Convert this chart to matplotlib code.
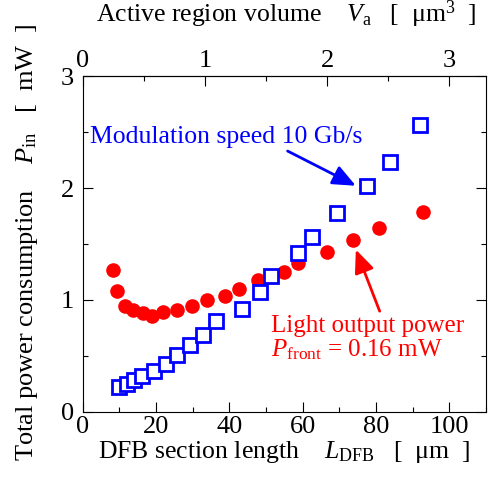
import matplotlib
matplotlib.use("Agg")
import matplotlib.pyplot as plt
import matplotlib.transforms as mtransforms
from matplotlib.ticker import MultipleLocator, FixedLocator

plt.rcParams['font.family'] = ['Liberation Serif', 'DejaVu Serif']
plt.rcParams['mathtext.fontset'] = 'custom'
plt.rcParams['mathtext.rm'] = 'Liberation Serif'
plt.rcParams['mathtext.it'] = 'Liberation Serif:italic'

# Datos
L_mod = [10.0, 12.0, 14.0, 16.3, 19.4, 22.7, 25.6, 29.4, 32.7, 36.5,
         43.5, 48.5, 51.5, 58.7, 62.6, 69.4, 77.5, 83.9, 91.9]
P_mod = [0.22, 0.25, 0.29, 0.32, 0.37, 0.43, 0.51, 0.60, 0.69, 0.81,
         0.92, 1.07, 1.21, 1.42, 1.56, 1.78, 2.02, 2.23, 2.56]

L_light = [8.4, 9.4, 11.5, 13.6, 16.5, 18.8, 21.8, 25.6, 29.7, 33.8,
           38.8, 42.7, 47.8, 54.9, 58.7, 66.6, 73.7, 80.8, 92.8]
P_light = [1.27, 1.08, 0.95, 0.91, 0.88, 0.86, 0.89, 0.91, 0.95, 1.00,
           1.04, 1.10, 1.18, 1.25, 1.33, 1.43, 1.54, 1.64, 1.79]

factor_volumen = 0.03  # um^3 por um de longitud
ticks_volumen = [0, 1, 2, 3]
ticks_volumen_menor = [0.5, 1.5, 2.5]

fig = plt.figure(figsize=(4.89, 4.79), dpi=100)
ax = fig.add_axes([0.169, 0.1399, 0.8249, 0.7014])

ax.plot(L_light, P_light, 'o', color='#ff0000', markersize=10.5, markeredgewidth=0, zorder=3)
ax.plot(L_mod, P_mod, 's', color='#0000ff', markersize=9.5, markerfacecolor='white',
        markeredgewidth=2.0, zorder=4)

ax.set_xlim(0, 110)
ax.set_ylim(0, 3)
ax.xaxis.set_major_locator(MultipleLocator(20))
ax.xaxis.set_minor_locator(MultipleLocator(10))
ax.yaxis.set_major_locator(MultipleLocator(1))
ax.yaxis.set_minor_locator(MultipleLocator(0.5))
ax.tick_params(which='both', direction='in', labelsize=19, width=0.8,
               top=False, right=True, pad=3)
ax.tick_params(axis='y', pad=6)
ax.tick_params(which='major', length=7)
ax.tick_params(which='minor', length=3.6)
for s in ax.spines.values():
    s.set_linewidth(0.8)

# el "0" del eje x va un poco a la izquierda
fig.canvas.draw()
lab0 = ax.get_xticklabels()[0]
lab0.set_transform(lab0.get_transform() + mtransforms.ScaledTranslation(-9 / 100, 0, fig.dpi_scale_trans))

ax.set_xlabel('DFB section length    $L_\\mathrm{DFB}$   [  μm  ]', fontsize=18.5)
ax.set_ylabel('Total power consumption    $P_\\mathrm{in}$   [  mW  ]', fontsize=19)
ax.xaxis.set_label_coords(0.5, -0.08)
ax.yaxis.set_label_coords(-0.105, 0.506)

# eje superior: volumen de la region activa
sec = ax.secondary_xaxis('top', functions=(lambda x: x * factor_volumen, lambda v: v / factor_volumen))
sec.xaxis.set_major_locator(FixedLocator(ticks_volumen))
sec.xaxis.set_minor_locator(FixedLocator(ticks_volumen_menor))
sec.tick_params(which='both', direction='in', labelsize=19, width=0.8, pad=3)
sec.tick_params(which='major', length=7)
sec.tick_params(which='minor', length=3.6)
sec.spines['top'].set_linewidth(0.8)
sec.set_xlabel('Active region volume    $V_\\mathrm{a}$   [  μm$^3$  ]', fontsize=18.5)
sec.xaxis.set_label_coords(0.505, 1.161, transform=ax.transAxes)

# anotaciones
ax.annotate('', xy=(74.5, 2.02), xytext=(55.9, 2.33),
            arrowprops=dict(arrowstyle='-|>,head_length=0.7,head_width=0.3', color='#0000ff',
                            lw=2.0, mutation_scale=20, shrinkA=0, shrinkB=0))
ax.text(2.0, 2.40, 'Modulation speed 10 Gb/s', color='#0000ff', fontsize=18.5)

ax.annotate('', xy=(74.5, 1.45), xytext=(81.0, 0.90),
            arrowprops=dict(arrowstyle='-|>,head_length=0.7,head_width=0.3', color='#ff0000',
                            lw=2.0, mutation_scale=20, shrinkA=0, shrinkB=0))
ax.text(51.5, 0.717, 'Light output power', color='#ff0000', fontsize=18)
ax.text(51.5, 0.494, '$P_\\mathrm{front}$ = 0.16 mW', color='#ff0000', fontsize=18)

fig.savefig('out.png', dpi=100)
